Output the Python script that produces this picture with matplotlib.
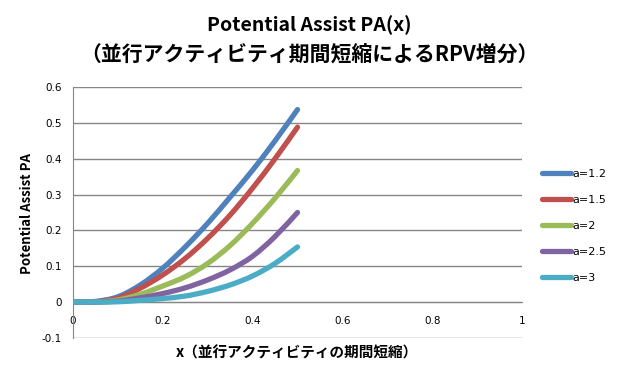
import matplotlib
matplotlib.use("Agg")
import matplotlib.pyplot as plt
from matplotlib.lines import Line2D
from matplotlib.path import Path
from matplotlib.patches import PathPatch

plt.rcParams['font.family'] = ['DejaVu Sans', 'Noto Sans CJK JP']

x = [0, 0.05, 0.1, 0.15, 0.2, 0.25, 0.3, 0.35, 0.4, 0.45, 0.5]
pa_a12 = [0, 0.002, 0.015, 0.048, 0.095, 0.154, 0.22, 0.293, 0.368, 0.45, 0.537]
pa_a15 = [0, 0.001, 0.011, 0.039, 0.076, 0.122, 0.178, 0.243, 0.318, 0.40, 0.488]
pa_a2 = [0, 0.0005, 0.006, 0.022, 0.045, 0.071, 0.108, 0.158, 0.22, 0.29, 0.367]
pa_a25 = [0, 0.0003, 0.003, 0.012, 0.024, 0.04, 0.062, 0.09, 0.128, 0.183, 0.25]
pa_a3 = [0, 0.0002, 0.001, 0.005, 0.01, 0.017, 0.03, 0.048, 0.073, 0.108, 0.154]
series = [pa_a12, pa_a15, pa_a2, pa_a25, pa_a3]
labels = ['a=1.2', 'a=1.5', 'a=2', 'a=2.5', 'a=3']
colors = ['#4F81BD', '#C0504D', '#9BBB59', '#8064A2', '#4BACC6']

xticks = [0, 0.2, 0.4, 0.6, 0.8, 1]
yticks = [-0.1, 0, 0.1, 0.2, 0.3, 0.4, 0.5, 0.6]


def smooth_path(xs, ys):
    """Excel-style smoothed line: Bezier segments through the data points."""
    verts = [(xs[0], ys[0])]
    codes = [Path.MOVETO]
    n = len(xs)
    for i in range(n - 1):
        x0, y0 = xs[max(i - 1, 0)], ys[max(i - 1, 0)]
        x1, y1 = xs[i], ys[i]
        x2, y2 = xs[i + 1], ys[i + 1]
        x3, y3 = xs[min(i + 2, n - 1)], ys[min(i + 2, n - 1)]
        c1 = (x1 + (x2 - x0) / 6, y1 + (y2 - y0) / 6)
        c2 = (x2 - (x3 - x1) / 6, y2 - (y3 - y1) / 6)
        verts += [c1, c2, (x2, y2)]
        codes += [Path.CURVE4] * 3
    return Path(verts, codes)


fig = plt.figure(figsize=(6.18, 3.78), dpi=100)
ax = fig.add_axes([73/618, 1-338/378, (522-73)/618, (338-87)/378])

for yv in yticks:
    ax.axhline(yv, color='#868686', lw=1.0, zorder=1)

for s, c in zip(series, colors):
    patch = PathPatch(smooth_path(x, s), facecolor='none', edgecolor=c, lw=3.8,
                      capstyle='round', joinstyle='round', zorder=3)
    ax.add_patch(patch)

ax.set_xlim(0, 1)
ax.set_ylim(-0.1, 0.6)
ax.set_xticks(xticks)
ax.set_xticklabels([f"{v:g}" for v in xticks])
ax.set_yticks(yticks)
ax.set_yticklabels([f"{v:g}" for v in yticks])
ax.tick_params(axis='both', length=0, labelsize=7.5)
ax.tick_params(axis='y', pad=8)
ax.tick_params(axis='x', pad=10)
ax.spines['top'].set_visible(False)
ax.spines['right'].set_visible(False)
ax.spines['bottom'].set_position(('data', 0))
ax.spines['bottom'].set_color('#868686')
ax.spines['left'].set_color('#868686')

cjk = ['Noto Sans CJK JP', 'DejaVu Sans']
fig.text(0.5, 1-25/378, 'Potential Assist PA(x)', ha='center', va='center',
         fontsize=14, fontweight='bold', family=cjk)
fig.text(0.5, 1-55/378, '（並行アクティビティ期間短縮によるRPV増分）', ha='center', va='center',
         fontsize=15, fontweight='bold', family=cjk)
fig.text(27/618, 1-213/378, 'Potential Assist PA', rotation=90, ha='center', va='center',
         fontsize=9.5, fontweight='bold', family=cjk)
fig.text(297/618, 1-353/378, 'x（並行アクティビティの期間短縮）', ha='center', va='center',
         fontsize=10.5, fontweight='bold', family=cjk)

handles = [Line2D([0], [0], color=c, lw=3.8, solid_capstyle='round') for c in colors]
leg = fig.legend(handles, labels, loc='center left', bbox_to_anchor=(538/618, 1-226/378),
                 frameon=False, fontsize=8, handlelength=2.6, handletextpad=0.1,
                 labelspacing=1.45, borderaxespad=0)

fig.savefig('out.png', dpi=100)
